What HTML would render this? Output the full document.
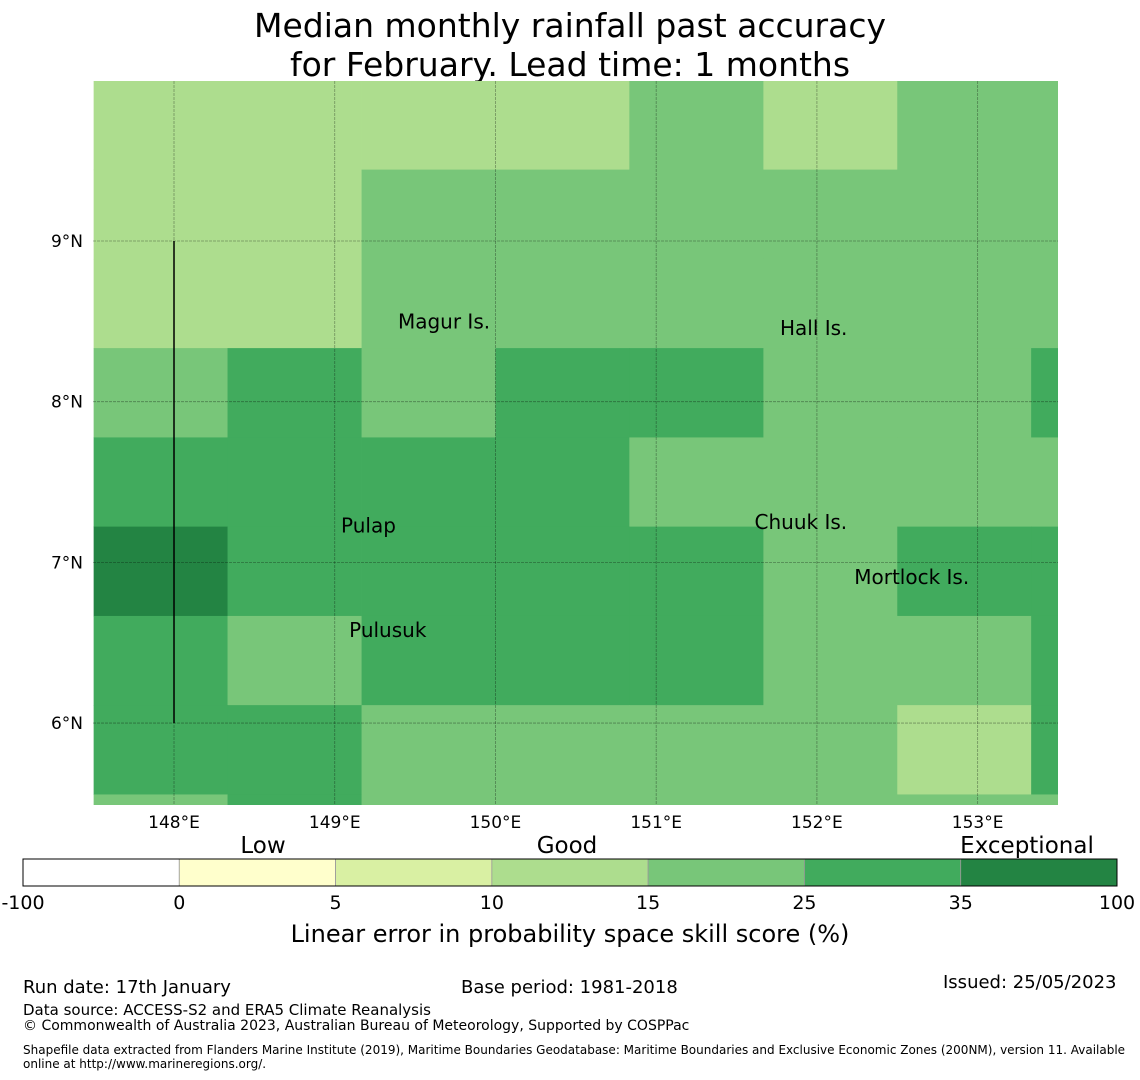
<!DOCTYPE html>
<html><head><meta charset="utf-8"><style>
body{margin:0;background:#fff;font-family:"DejaVu Sans","Liberation Sans",sans-serif;}
#wrap{position:relative;width:1140px;height:1080px;overflow:hidden;}
.t{position:absolute;white-space:nowrap;color:#000;}
</style></head><body>
<div id="wrap">
<div class="t" style="left:0;width:1140px;top:6px;text-align:center;font-size:33px;line-height:39px;">Median monthly rainfall past accuracy<br>for February. Lead time: 1 months</div>
<svg id="map" width="1140" height="1080" style="position:absolute;left:0;top:0"></svg>
<div class="t" style="left:23px;top:977px;font-size:18px;">Run date: 17th January</div>
<div class="t" style="left:461px;top:977px;font-size:18px;">Base period: 1981-2018</div>
<div class="t" style="left:943px;top:972px;font-size:18px;">Issued: 25/05/2023</div>
<div class="t" style="left:23px;top:1001px;font-size:15px;">Data source: ACCESS-S2 and ERA5 Climate Reanalysis</div>
<div class="t" style="left:23px;top:1018px;font-size:14px;">© Commonwealth of Australia 2023, Australian Bureau of Meteorology, Supported by COSPPac</div>
<div class="t" style="left:23px;top:1043px;font-size:12px;line-height:14px;">Shapefile data extracted from Flanders Marine Institute (2019), Maritime Boundaries Geodatabase: Maritime Boundaries and Exclusive Economic Zones (200NM), version 11. Available<br>online at http://www.marineregions.org/.</div>
</div>
<script>
const NS="http://www.w3.org/2000/svg";
const svg=document.getElementById('map');
const FF='DejaVu Sans, Liberation Sans, sans-serif';
// data
const cellLons=[147.5,148.333,149.167,150.0,150.833,151.667,152.5,153.333];
const cellLats=[9.444,8.889,8.333,7.778,7.222,6.667,6.111,5.556,5.0];
const skill=[
[12,12,12,12,20,12,20,20],
[12,12,20,20,20,20,20,20],
[12,12,20,20,20,20,20,20],
[20,30,20,30,30,20,20,30],
[30,30,30,30,20,20,20,20],
[40,30,30,30,30,20,30,30],
[30,20,30,30,30,20,20,30],
[30,30,20,20,20,20,12,30],
[20,30,20,20,20,20,20,20]];
const cbBounds=[-100,0,5,10,15,25,35,100];
const cbColors=["#ffffff","#ffffcc","#d9f0a3","#addd8e","#78c679","#41ab5d","#238443"];
const lonTicks=[148,149,150,151,152,153];
const latTicks=[9,8,7,6];
const places=[["Magur Is.",149.68,8.5],["Hall Is.",151.98,8.46],["Pulap",149.21,7.23],["Chuuk Is.",151.9,7.25],["Mortlock Is.",152.59,6.91],["Pulusuk",149.33,6.58]];
// axes
const L=93,R=1058,T=81,B=805,lon0=147.496,lon1=153.5,lat0=5.49,lat1=9.996;
const x=lon=>L+(lon-lon0)/(lon1-lon0)*(R-L);
const y=lat=>T+(lat1-lat)/(lat1-lat0)*(B-T);
const dw=0.8333,dh=0.5556;
function col(v){for(let i=0;i<cbColors.length;i++){if(v<cbBounds[i+1])return cbColors[i];}return cbColors[cbColors.length-1];}
function mk(tag,attrs){const e=document.createElementNS(NS,tag);for(const k in attrs)e.setAttribute(k,attrs[k]);svg.appendChild(e);return e;}
const clip=mk('clipPath',{id:'cp'});const cr=document.createElementNS(NS,'rect');cr.setAttribute('x',L);cr.setAttribute('y',T);cr.setAttribute('width',R-L);cr.setAttribute('height',B-T);clip.appendChild(cr);
const g=mk('g',{'clip-path':'url(#cp)'});
skill.forEach((row,r)=>row.forEach((v,c)=>{
 const e=document.createElementNS(NS,'rect');
 const x0=x(cellLons[c]),x1=x(cellLons[c]+dw),y0=y(cellLats[r]+dh),y1=y(cellLats[r]);
 e.setAttribute('x',x0);e.setAttribute('y',y0);e.setAttribute('width',x1-x0+0.5);e.setAttribute('height',y1-y0+0.5);e.setAttribute('fill',col(v));
 
 
 g.appendChild(e);}));
lonTicks.forEach(v=>{
 const l=mk('line',{x1:x(v),x2:x(v),y1:T,y2:B,stroke:'#000','stroke-opacity':0.35,'stroke-width':0.8,'stroke-dasharray':'3,1'});
 
 const t=mk('text',{x:x(v),y:B+23,'font-size':17,'text-anchor':'middle','font-family':FF});t.textContent=v+'°E';
 });
latTicks.forEach(v=>{
 const l=mk('line',{x1:L,x2:R,y1:y(v),y2:y(v),stroke:'#000','stroke-opacity':0.35,'stroke-width':0.8,'stroke-dasharray':'3,1'});
 
 const t=mk('text',{x:L-10,y:y(v)+6,'font-size':17,'text-anchor':'end','font-family':FF});t.textContent=v+'°N';
 });
const vl=mk('line',{x1:x(148),x2:x(148),y1:y(9),y2:y(6),stroke:'#000','stroke-width':1.5});

places.forEach(p=>{const t=mk('text',{x:x(p[1]),y:y(p[2])+7,'font-size':20,'text-anchor':'middle','font-family':FF});t.textContent=p[0];
 });
// colorbar
const cbL=23,cbR=1117,cbT=859,cbB=886,segW=(cbR-cbL)/cbColors.length;
cbColors.forEach((c,i)=>{const e=mk('rect',{x:cbL+i*segW,y:cbT,width:segW,height:cbB-cbT,fill:c,stroke:'#999','stroke-width':0.8});
 });
mk('rect',{x:cbL,y:cbT,width:cbR-cbL,height:cbB-cbT,fill:'none',stroke:'#000','stroke-width':1});
cbBounds.forEach((b,i)=>{const t=mk('text',{x:cbL+i*segW,y:909,'font-size':19,'text-anchor':'middle','font-family':FF});t.textContent=b;
 });
[["Low",263],["Good",567],["Exceptional",1027]].forEach(a=>{const t=mk('text',{x:a[1],y:853,'font-size':23,'text-anchor':'middle','font-family':FF});t.textContent=a[0];
 });
const at=mk('text',{x:570,y:942,'font-size':24,'text-anchor':'middle','font-family':FF});at.textContent='Linear error in probability space skill score (%)';

</script>
</body></html>
